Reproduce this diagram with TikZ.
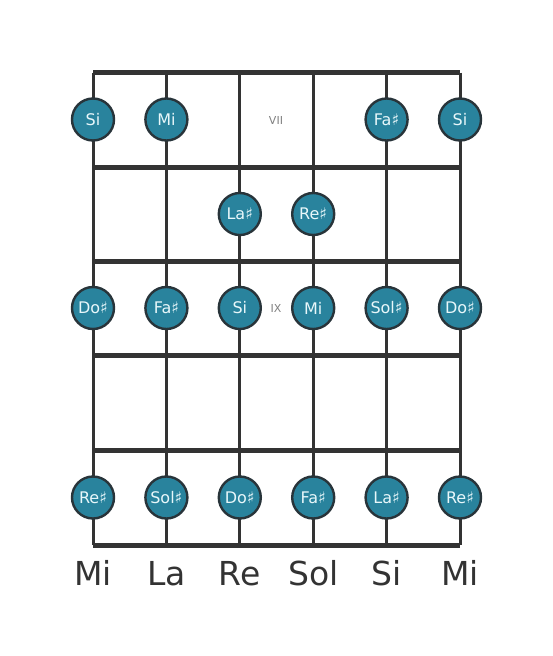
\documentclass[tikz,border=0pt]{standalone}
\usepackage{fontspec}
\setmainfont{DejaVu Sans}
\definecolor{notefill}{RGB}{41,131,157}
\definecolor{notedge}{RGB}{40,52,58}
\definecolor{notetext}{RGB}{232,247,250}
\definecolor{boardline}{RGB}{51,51,51}
\tikzset{
    note/.style={circle, draw=notedge, fill=notefill, line width=2.4pt,
        minimum size=42pt, inner sep=0pt, text=notetext,
        font=\fontsize{16}{16}\selectfont},
    fretnum/.style={text=gray, font=\fontsize{11}{11}\selectfont},
    stringname/.style={anchor=base, text=boardline, font=\fontsize{33}{33}\selectfont},
    stringline/.style={draw=boardline, line width=3pt},
    fretline/.style={draw=boardline, line width=5pt},
}
\begin{document}
\begin{tikzpicture}[x=1pt,y=-1pt]
\useasboundingbox (0,0) rectangle (553,656);
% string and fret coordinates
\foreach \i/\x in {1/93,2/166.4,3/239.8,4/313.2,5/386.6,6/460}{
    \coordinate (s\i top) at (\x,72.5);
    \coordinate (s\i bot) at (\x,545);
}
\foreach \j/\y in {0/72.5,1/167,2/261,3/355.5,4/450,5/545}{
    \coordinate (f\j L) at (93,\y);
    \coordinate (f\j R) at (460,\y);
}
% strings
\foreach \i in {1,...,6}
    \draw[stringline] (s\i top) -- (s\i bot);
% frets
\foreach \j in {0,...,5}
    \draw[fretline] (f\j L) -- (f\j R);
% fret numbers
\node[fretnum] (fretVII) at (276,120) {VII};
\node[fretnum] (fretIX) at (276,308) {IX};
% notes, row VII
\node[note] (n11) at (93,119.5) {Si};
\node[note] (n12) at (166.4,119.5) {Mi};
\node[note] (n15) at (386.6,119.5) {Fa♯};
\node[note] (n16) at (460,119.5) {Si};
% row VIII
\node[note] (n23) at (239.8,214) {La♯};
\node[note] (n24) at (313.2,214) {Re♯};
% row IX
\node[note] (n31) at (93,308) {Do♯};
\node[note] (n32) at (166.4,308) {Fa♯};
\node[note] (n33) at (239.8,308) {Si};
\node[note] (n34) at (313.2,308) {Mi};
\node[note] (n35) at (386.6,308) {Sol♯};
\node[note] (n36) at (460,308) {Do♯};
% row XI
\node[note] (n51) at (93,497.5) {Re♯};
\node[note] (n52) at (166.4,497.5) {Sol♯};
\node[note] (n53) at (239.8,497.5) {Do♯};
\node[note] (n54) at (313.2,497.5) {Fa♯};
\node[note] (n55) at (386.6,497.5) {La♯};
\node[note] (n56) at (460,497.5) {Re♯};
% string names
\node[stringname] (name1) at (93,585) {Mi};
\node[stringname] (name2) at (166.4,585) {La};
\node[stringname] (name3) at (239.8,585) {Re};
\node[stringname] (name4) at (313.2,585) {Sol};
\node[stringname] (name5) at (386.6,585) {Si};
\node[stringname] (name6) at (460,585) {Mi};
\end{tikzpicture}
\end{document}
